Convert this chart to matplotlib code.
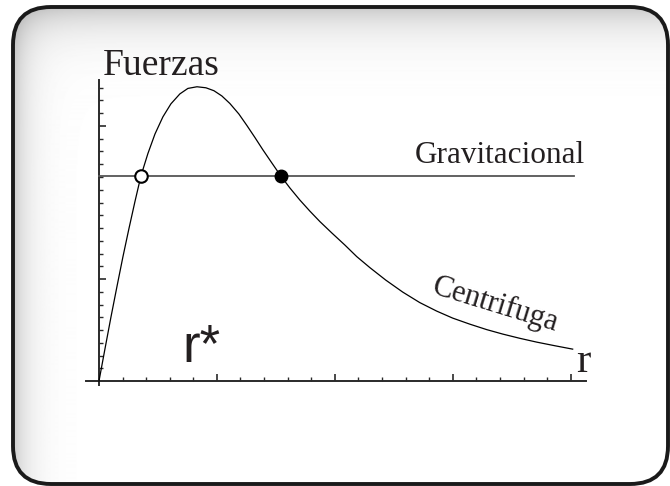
import numpy as np
import matplotlib
matplotlib.use("Agg")
import matplotlib.pyplot as plt
from matplotlib.patches import FancyBboxPatch

# curva centrifuga (x en unidades de marca mayor, y en marcas menores)
cent_x = [0.000, 0.051, 0.102, 0.153, 0.203, 0.254, 0.305, 0.356, 0.415, 0.475,
          0.542, 0.610, 0.686, 0.754, 0.831, 0.907, 0.975, 1.042, 1.110, 1.186,
          1.254, 1.322, 1.390, 1.466, 1.542, 1.619, 1.703, 1.788, 1.873, 1.975,
          2.085, 2.186, 2.297, 2.432, 2.576, 2.720, 2.864, 3.000, 3.144, 3.288,
          3.424, 3.568, 3.712, 3.864, 4.017]
cent_y = [0.00, 2.54, 5.04, 7.44, 9.74, 11.95, 14.07, 16.09, 17.84, 19.37,
          20.71, 21.73, 22.51, 22.94, 23.07, 22.99, 22.76, 22.35, 21.76, 20.94,
          20.04, 19.10, 18.13, 17.10, 16.08, 15.14, 14.20, 13.33, 12.51, 11.61,
          10.67, 9.76, 8.90, 7.92, 6.98, 6.16, 5.49, 4.94, 4.47, 4.04,
          3.69, 3.36, 3.06, 2.78, 2.51]
grav_y = 16.08
grav_x = [0.0, 4.03]
r_star = [0.356, 1.542]   # cortes: inestable (abierto), estable (lleno)

ink = '#231f20'
W, H = 670, 486
fig = plt.figure(figsize=(W / 100, H / 100), dpi=100)

# fondo: recuadro redondeado con sombra interior
bg = fig.add_axes([0, 0, 1, 1])
bg.set_xlim(0, W)
bg.set_ylim(H, 0)
bg.axis('off')
yy, xx = np.mgrid[0:H, 0:W]
shade = 1 - 0.20 * np.exp(-(yy - 9) / 22.0) - 0.18 * np.exp(-(xx - 15) / 16.0)
shade = np.clip(shade, 0.72, 1.0)
img = bg.imshow(shade, cmap='gray', vmin=0, vmax=1, extent=(0, W, H, 0),
                aspect='auto', zorder=0)
box = FancyBboxPatch((13, 7), 655, 477, boxstyle='round,pad=0,rounding_size=38',
                     fc='none', ec='#1a1a1a', lw=2.8, zorder=2)
bg.add_patch(box)
img.set_clip_path(box)

# textos en coordenadas de pixel
bg.text(103, 75, 'Fuerzas', family='Liberation Serif', fontsize=27, color=ink, va='baseline')
bg.text(415, 163, 'Gravitacional', family='Liberation Serif', fontsize=22.5, color=ink, va='baseline')
bg.text(493, 312, 'Centrifuga', family='Liberation Serif', fontsize=22, color=ink,
        ha='center', va='baseline', rotation=-17, rotation_mode='anchor')
bg.text(182, 362, 'r*', family='Liberation Sans', fontsize=38, color=ink, va='baseline')
bg.text(576, 372, 'r', family='Liberation Serif', fontsize=31, color=ink, va='baseline')

# ejes de datos
ax = fig.add_axes([86 / W, 101 / H, 500 / W, 305 / H])
ax.set_facecolor('none')
ax.set_xlim(-0.11, 4.13)
ax.set_ylim(-0.3, 23.6)
for s in ['top', 'right']:
    ax.spines[s].set_visible(False)
for s in ['left', 'bottom']:
    ax.spines[s].set_position(('data', 0))
    ax.spines[s].set_linewidth(1.4)
    ax.spines[s].set_color('#2a2a2a')

ax.set_xticks([1, 2, 3, 4])
ax.set_xticks(np.arange(0.2, 4.1, 0.2), minor=True)
ax.set_yticks([8, 20])
ax.set_yticks(np.arange(1, 24, 1), minor=True)
ax.tick_params(which='major', direction='in', length=5, width=1.2, color='#2a2a2a',
               labelbottom=False, labelleft=False)
ax.tick_params(which='minor', direction='in', length=3, width=1.0, color='#2a2a2a')

ax.plot(grav_x, [grav_y, grav_y], color='#555555', lw=1.3, zorder=3)
ax.plot(cent_x, cent_y, color='black', lw=0.9, zorder=4)
ax.plot(r_star[0], grav_y, 'o', ms=9, mfc='white', mec='black', mew=1.5, zorder=5)
ax.plot(r_star[1], grav_y, 'o', ms=9, mfc='black', mec='black', zorder=5)

fig.savefig('out.png', dpi=100)
